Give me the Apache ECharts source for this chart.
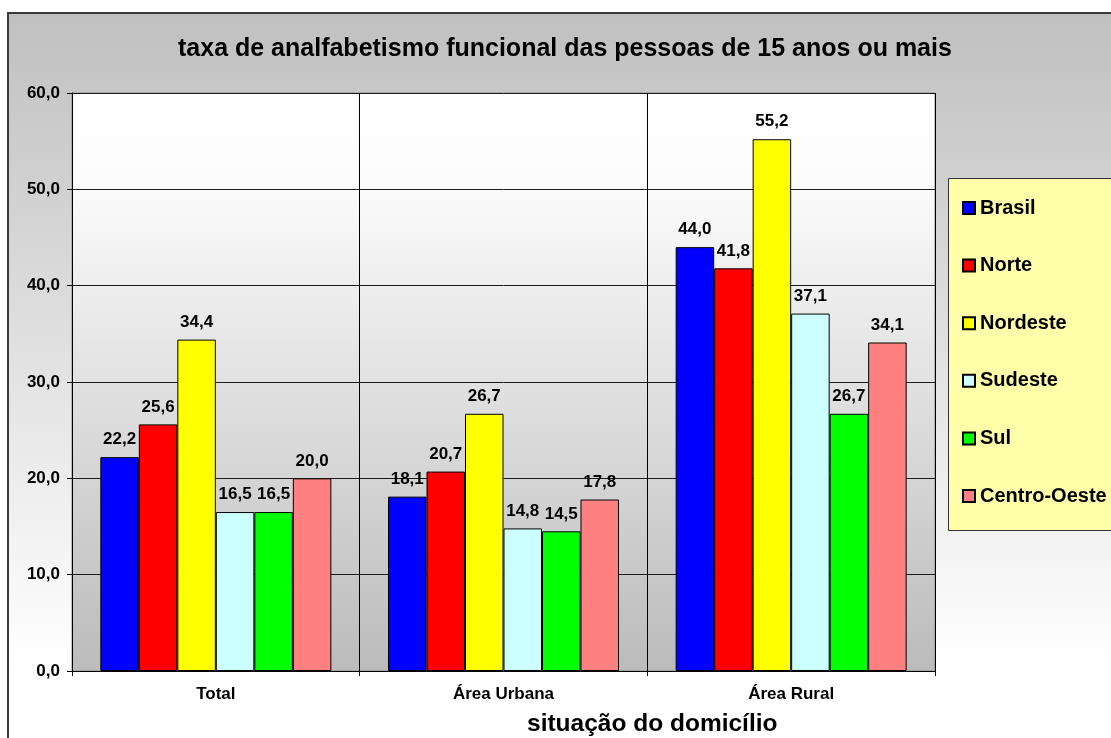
<!DOCTYPE html>
<html>
<head>
<meta charset="utf-8">
<script src="https://cdn.jsdelivr.net/npm/echarts@6/dist/echarts.min.js"></script>
<style>html,body{margin:0;padding:0;background:#fff}#c{width:1111px;height:738px}</style>
</head>
<body>
<div id="c"></div>
<script>
const categories = ['Total', 'Área Urbana', 'Área Rural'];
const brasil = [22.2, 18.1, 44.0];
const norte = [25.6, 20.7, 41.8];
const nordeste = [34.4, 26.7, 55.2];
const sudeste = [16.5, 14.8, 37.1];
const sul = [16.5, 14.5, 26.7];
const centroOeste = [20.0, 17.8, 34.1];
const seriesNames = ['Brasil', 'Norte', 'Nordeste', 'Sudeste', 'Sul', 'Centro-Oeste'];
const seriesValues = [brasil, norte, nordeste, sudeste, sul, centroOeste];
const seriesColors = ['#0000FF', '#FF0000', '#FFFF00', '#CCFFFF', '#00FF00', '#FF8080'];
const yTicks = { min: 0, max: 60, interval: 10 };
const titleText = 'taxa de analfabetismo funcional das pessoas de 15 anos ou mais';
const xAxisTitle = 'situação do domicílio';

const FONT = 'Arial, "Liberation Sans", sans-serif';
const fmt = v => Number(v).toFixed(1).replace('.', ',');

const chart = echarts.init(document.getElementById('c'), null, { renderer: 'canvas' });
chart.setOption({
  backgroundColor: '#FFFFFF',
  animation: false,
  graphic: [
    {
      type: 'rect', z: -100, silent: true,
      shape: { x: 8, y: 13, width: 1200, height: 760 },
      style: {
        fill: new echarts.graphic.LinearGradient(0, 0, 0, 1, [
          { offset: 0, color: '#C0C0C0' },
          { offset: 0.86, color: '#FFFFFF' },
          { offset: 1, color: '#FFFFFF' }
        ]),
        stroke: '#3A3A3A', lineWidth: 2
      }
    },
    {
      type: 'rect', z: -50, silent: true,
      shape: { x: 948.5, y: 178.5, width: 200, height: 352 },
      style: { fill: '#FFFFAA', stroke: '#333333', lineWidth: 1 }
    }
  ],
  title: [
    {
      text: titleText, left: 178, top: 37, padding: 0,
      textStyle: { fontFamily: FONT, fontSize: 25, fontWeight: 'bold', color: '#000' }
    },
    {
      text: xAxisTitle, left: 527, top: 712, padding: 0,
      textStyle: { fontFamily: FONT, fontSize: 24.5, fontWeight: 'bold', color: '#000' }
    }
  ],
  legend: {
    orient: 'vertical', left: 962, top: 198, padding: 0,
    itemWidth: 12, itemHeight: 12, itemGap: 37.6,
    icon: 'rect',
    data: seriesNames,
    textStyle: { fontFamily: FONT, fontSize: 20, fontWeight: 'bold', color: '#000', lineHeight: 20 }
  },
  grid: {
    left: 72, top: 93, right: 176, bottom: 67, show: true,
    borderColor: '#888888', borderWidth: 1,
    backgroundColor: new echarts.graphic.LinearGradient(0, 0, 0, 1, [
      { offset: 0, color: '#FFFFFF' },
      { offset: 0.15, color: '#FCFCFC' },
      { offset: 1, color: '#BBBBBB' }
    ])
  },
  xAxis: {
    type: 'category', data: categories,
    axisLine: { lineStyle: { color: '#000', width: 1 } },
    axisTick: { show: true, length: 5, lineStyle: { color: '#000' } },
    axisLabel: { margin: 15, fontFamily: FONT, fontSize: 17, fontWeight: 'bold', color: '#000' },
    splitLine: { show: true, lineStyle: { color: '#000', width: 1 } }
  },
  yAxis: {
    type: 'value', min: yTicks.min, max: yTicks.max, interval: yTicks.interval,
    axisLine: { show: true, lineStyle: { color: '#000', width: 1 } },
    axisTick: { show: true, length: 5, lineStyle: { color: '#000' } },
    axisLabel: { margin: 12, fontFamily: FONT, fontSize: 17, fontWeight: 'bold', color: '#000', formatter: fmt },
    splitLine: { show: true, lineStyle: { color: '#1A1A1A', width: 1 } }
  },
  series: seriesNames.map((name, i) => ({
    name: name, type: 'bar', data: seriesValues[i],
    barGap: '0%', barCategoryGap: '19.7%',
    itemStyle: { color: seriesColors[i], borderColor: '#000', borderWidth: 1 },
    label: {
      show: true, position: 'top', distance: 9,
      fontFamily: FONT, fontSize: 17, fontWeight: 'bold', color: '#000',
      formatter: p => fmt(p.value)
    }
  }))
});
</script>
</body>
</html>
